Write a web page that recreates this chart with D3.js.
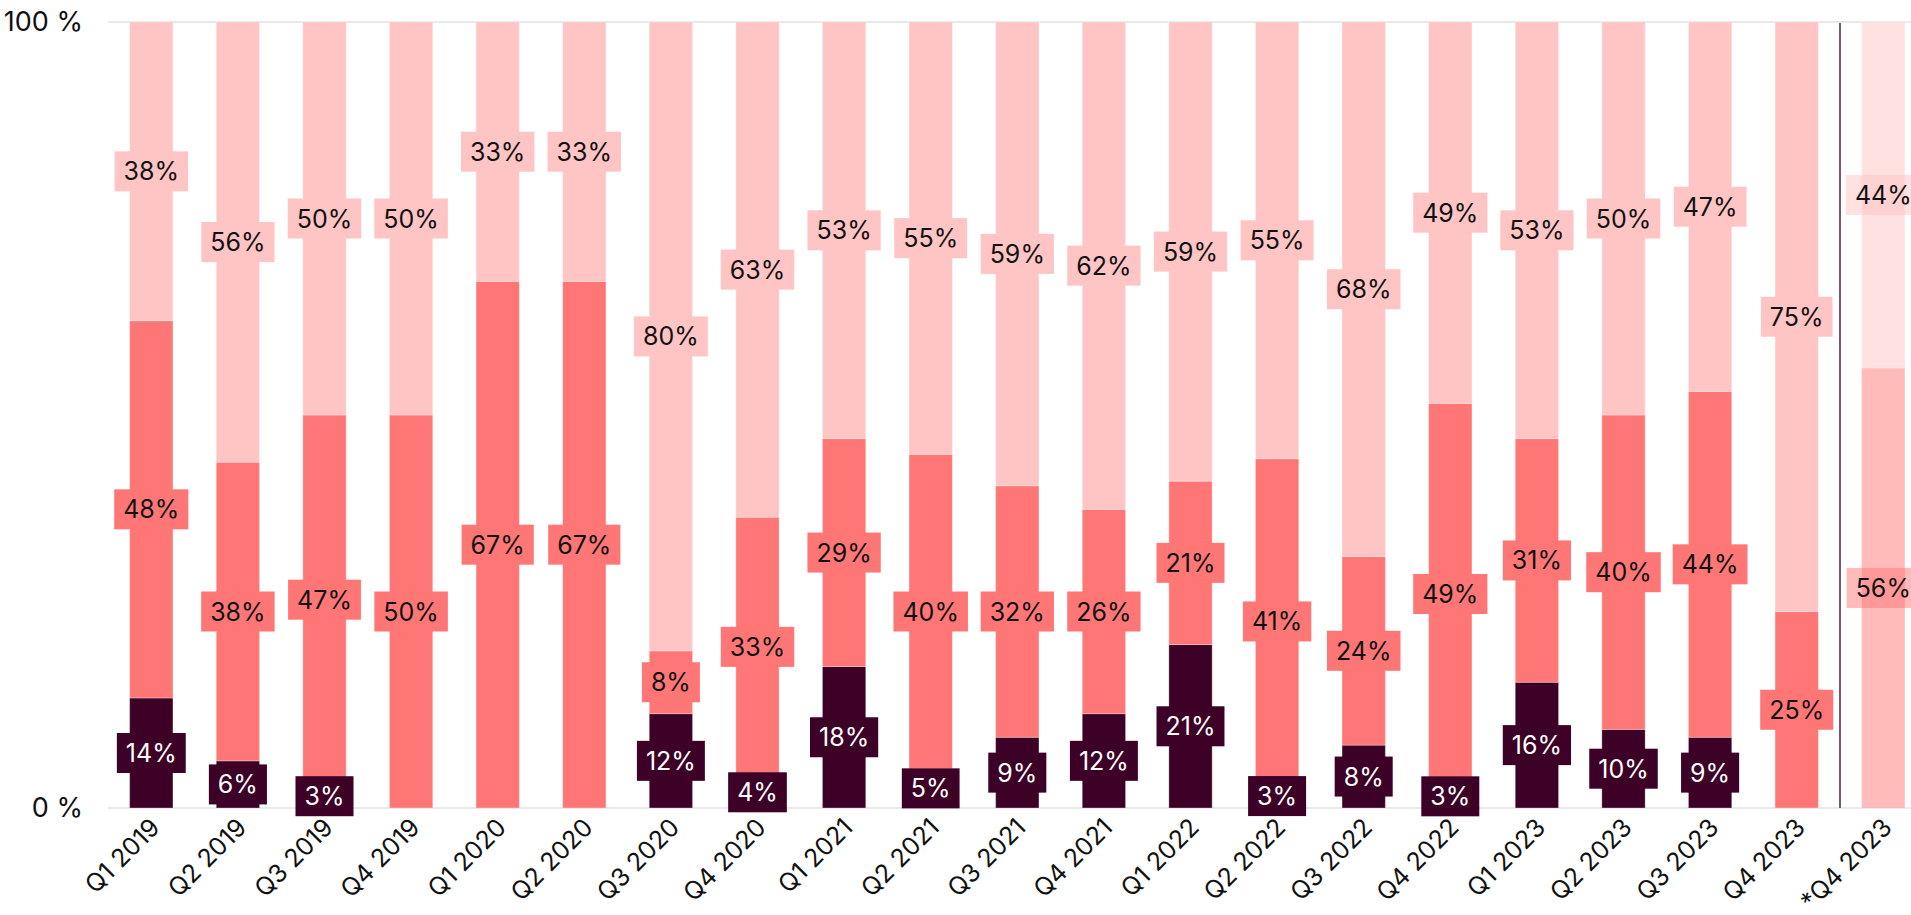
<!DOCTYPE html>
<html>
<head>
<meta charset="utf-8">
<script src="https://cdn.jsdelivr.net/npm/d3@7"></script>
<style>
  body { margin: 0; background: #fff; overflow: hidden; }
  svg { display: block; font-family: Inter, "Noto Sans", sans-serif; }
</style>
</head>
<body>
<svg id="chart" width="1911" height="915"></svg>
<script>
// quarters (the last one is the estimate, drawn faded)
var quarters = ["Q1 2019", "Q2 2019", "Q3 2019", "Q4 2019", "Q1 2020", "Q2 2020", "Q3 2020",
    "Q4 2020", "Q1 2021", "Q2 2021", "Q3 2021", "Q4 2021", "Q1 2022", "Q2 2022", "Q3 2022",
    "Q4 2022", "Q1 2023", "Q2 2023", "Q3 2023", "Q4 2023", "*Q4 2023"];

// shares in percent, bottom to top
var shareDark  = [14, 6, 3, 0, 0, 0, 12, 4, 18, 5, 9, 12, 21, 3, 8, 3, 16, 10, 9, 0, 0];
var shareMid   = [48, 38, 47, 50, 67, 67, 8, 33, 29, 40, 32, 26, 21, 41, 24, 49, 31, 40, 44, 25, 56];
var shareLight = [38, 56, 50, 50, 33, 33, 80, 63, 53, 55, 59, 62, 59, 55, 68, 49, 53, 50, 47, 75, 44];

var yTicks = [0, 1];
var estimate = "*Q4 2023";

var keys = ["dark", "mid", "light"];
var colors = {dark: "#3d0026", mid: "#ff7676", light: "#ffc4c4"};
var textColors = {dark: "#fff", mid: "#111", light: "#111"};

var rows = quarters.map(function(q, i) {
    return {quarter: q, dark: shareDark[i], mid: shareMid[i], light: shareLight[i]};
});

var svg = d3.select("#chart");

var x = d3.scaleBand()
    .domain(quarters)
    .range([108, 1926.6])
    .paddingInner(0.5)
    .paddingOuter(0.25);

var y = d3.scaleLinear()
    .domain([0, 1])
    .range([808, 22]);

var series = d3.stack()
    .keys(keys)
    .offset(d3.stackOffsetExpand)(rows);

// gridlines
svg.append("g")
    .selectAll("line")
    .data(yTicks)
    .join("line")
    .attr("x1", 108)
    .attr("x2", 1911)
    .attr("y1", function(d) { return y(d); })
    .attr("y2", function(d) { return y(d); })
    .attr("stroke", "#e2e2e2")
    .attr("stroke-width", 1.5);

// bars
var layers = svg.append("g")
    .selectAll("g")
    .data(series)
    .join("g")
    .attr("fill", function(s) { return colors[s.key]; });

layers.selectAll("rect")
    .data(function(s) { return s; })
    .join("rect")
    .attr("x", function(d) { return x(d.data.quarter); })
    .attr("width", x.bandwidth())
    .attr("y", function(d) { return y(d[1]); })
    .attr("height", function(d) { return y(d[0]) - y(d[1]); })
    .attr("fill-opacity", function(d) { return d.data.quarter == estimate ? 0.5 : 1; })
    .attr("stroke", "#fff")
    .attr("stroke-opacity", 0.3)
    .attr("stroke-width", 1);

// separator before the estimate
var sepX = (x("Q4 2023") + x(estimate) + x.bandwidth()) / 2;
svg.append("line")
    .attr("x1", sepX)
    .attr("x2", sepX)
    .attr("y1", y(1) + 1)
    .attr("y2", y(0))
    .attr("stroke", "#7b5670")
    .attr("stroke-width", 2);

// value labels with boxes
var labelData = [];
series.forEach(function(s) {
    s.forEach(function(d, i) {
        var v = d.data[s.key];
        if (v > 0) labelData.push({key: s.key, value: v, quarter: d.data.quarter, mid: (d[0] + d[1]) / 2});
    });
});

var labels = svg.append("g")
    .selectAll("g")
    .data(labelData)
    .join("g")
    .attr("transform", function(d) {
        return "translate(" + (x(d.quarter) + x.bandwidth() / 2) + "," + y(d.mid) + ")";
    });

labels.append("rect")
    .attr("fill", function(d) { return colors[d.key]; })
    .attr("fill-opacity", function(d) { return d.quarter == estimate ? 0.5 : 1; });

labels.append("text")
    .attr("text-anchor", "middle")
    .attr("dy", "0.36em")
    .attr("font-size", 25)
    .attr("fill", function(d) { return textColors[d.key]; })
    .text(function(d) { return d.value + "%"; });

labels.each(function() {
    var g = d3.select(this);
    var w = g.select("text").node().getComputedTextLength() + 18;
    g.select("rect")
        .attr("x", -w / 2)
        .attr("width", w)
        .attr("y", -20)
        .attr("height", 40);
});

// axes
var xAxis = svg.append("g")
    .attr("transform", "translate(0,808)")
    .call(d3.axisBottom(x).tickSize(0));
xAxis.select(".domain").remove();
xAxis.selectAll("text")
    .attr("y", 0)
    .attr("dy", 0)
    .attr("font-family", "Inter, sans-serif")
    .attr("font-size", 25)
    .attr("fill", "#111")
    .attr("text-anchor", "end")
    .attr("transform", "translate(10,21) rotate(-45)");

var yAxis = svg.append("g")
    .attr("transform", "translate(108,0)")
    .call(d3.axisLeft(y).tickValues(yTicks).tickSize(0).tickPadding(25)
        .tickFormat(function(d) { return d * 100 + " %"; }));
yAxis.select(".domain").remove();
yAxis.selectAll("text")
    .attr("font-family", "Inter, sans-serif")
    .attr("font-size", 27)
    .attr("fill", "#111");
</script>
</body>
</html>
